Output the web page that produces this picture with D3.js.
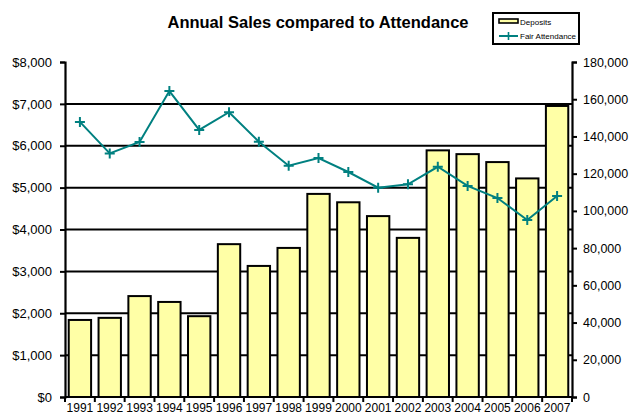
<!DOCTYPE html>
<html>
<head>
<meta charset="utf-8">
<script src="https://cdn.jsdelivr.net/npm/d3@7"></script>
<style>
  body { margin: 0; background: #fff; }
  text { font-family: Arial, "Liberation Sans", sans-serif; fill: #000; }
</style>
</head>
<body>
<svg id="chart" width="630" height="415"></svg>
<script>
var years = ["1991", "1992", "1993", "1994", "1995", "1996", "1997", "1998", "1999",
    "2000", "2001", "2002", "2003", "2004", "2005", "2006", "2007"];
var deposits = [1840, 1890, 2410, 2270, 1930, 3650, 3130, 3560, 4850,
    4650, 4320, 3800, 5890, 5800, 5610, 5220, 6950];
var attendance = [147800, 130900, 137000, 164400, 143500, 153000, 137200, 124300, 128400,
    120900, 112500, 114300, 123700, 113400, 106900, 95100, 108000];
var salesTicks = [0, 1000, 2000, 3000, 4000, 5000, 6000, 7000, 8000];
var attendTicks = [0, 20000, 40000, 60000, 80000, 100000, 120000, 140000, 160000, 180000];

var main;
(function (main) {
    let left = 65, right = 572, top = 62, bottom = 397;
    let barFill = "#ffffa6", lineColor = "#008080";

    function ini() {
        let svg = d3.select("#chart");
        let x = d3.scaleBand().domain(years).range([left, right])
            .paddingInner(0.25).paddingOuter(0.125);
        let yL = d3.scaleLinear().domain([0, 8000]).range([bottom, top]);
        let yR = d3.scaleLinear().domain([0, 180000]).range([bottom, top]);

        // gridlines
        svg.append("g").selectAll("line").data(salesTicks.slice(1, -1)).enter().append("line")
            .attr("x1", left).attr("x2", right)
            .attr("y1", d => yL(d)).attr("y2", d => yL(d))
            .attr("stroke", "#000").attr("stroke-width", 2);

        // bars
        svg.append("g").selectAll("rect").data(deposits).enter().append("rect")
            .attr("x", (d, i) => x(years[i]))
            .attr("y", d => yL(d))
            .attr("width", x.bandwidth())
            .attr("height", d => bottom - yL(d))
            .attr("fill", barFill).attr("stroke", "#000").attr("stroke-width", 2);

        // axes
        let axL = svg.append("g").attr("transform", "translate(" + left + ",0)")
            .call(d3.axisLeft(yL).tickValues(salesTicks).tickSizeOuter(0).tickSize(5).tickPadding(8)
                .tickFormat(d => "$" + d3.format(",")(d)));
        let axR = svg.append("g").attr("transform", "translate(" + right + ",0)")
            .call(d3.axisRight(yR).tickValues(attendTicks).tickSizeOuter(0).tickSize(5).tickPadding(6)
                .tickFormat(d3.format(",")));
        [axL, axR].forEach(ax => {
            ax.select(".domain").attr("stroke-width", 2.2);
            ax.selectAll(".tick line").attr("stroke-width", 2);
            ax.selectAll("text").style("font-family", "Arial, 'Liberation Sans', sans-serif");
        });
        axL.selectAll("text").style("font-size", "13px");
        axR.selectAll("text").style("font-size", "12.5px");

        let axB = svg.append("g").attr("transform", "translate(0," + bottom + ")");
        axB.append("line").attr("x1", left).attr("x2", right).attr("stroke", "#000").attr("stroke-width", 2.2);
        let bounds = years.map(d => x(d) - x.step() * x.paddingInner() / 2);
        bounds.push(right);
        axB.selectAll(".bt").data(bounds).enter().append("line")
            .attr("x1", d => d).attr("x2", d => d).attr("y1", 0).attr("y2", 5)
            .attr("stroke", "#000").attr("stroke-width", 2);
        axB.selectAll(".yl").data(years).enter().append("text")
            .attr("x", d => x(d) + x.bandwidth() / 2).attr("y", 14.5)
            .attr("text-anchor", "middle").style("font-size", "12px").text(d => d);

        // attendance line
        let line = d3.line().x((d, i) => x(years[i]) + x.bandwidth() / 2).y(d => yR(d));
        svg.append("path").datum(attendance).attr("d", line)
            .attr("fill", "none").attr("stroke", lineColor).attr("stroke-width", 2);
        svg.append("g").selectAll("path").data(attendance).enter().append("path")
            .attr("transform", (d, i) => "translate(" + (x(years[i]) + x.bandwidth() / 2) + "," + yR(d) + ")")
            .attr("d", "M-5,0H5M0,-5V5")
            .attr("stroke", lineColor).attr("stroke-width", 2);

        // title
        svg.append("text").attr("x", 318).attr("y", 28).attr("text-anchor", "middle")
            .style("font-size", "16.5px").style("font-weight", "bold")
            .text("Annual Sales compared to Attendance");

        // legend
        let lg = svg.append("g");
        lg.append("rect").attr("x", 493).attr("y", 13).attr("width", 86).attr("height", 31)
            .attr("fill", "#fff").attr("stroke", "#000").attr("stroke-width", 2);
        lg.append("rect").attr("x", 499).attr("y", 19).attr("width", 19).attr("height", 4)
            .attr("fill", barFill).attr("stroke", "#000").attr("stroke-width", 1.6);
        lg.append("text").attr("x", 520).attr("y", 24.5).style("font-size", "8px").text("Deposits");
        lg.append("line").attr("x1", 499).attr("x2", 518).attr("y1", 36).attr("y2", 36)
            .attr("stroke", lineColor).attr("stroke-width", 2);
        lg.append("path").attr("d", "M504,36H513M508.5,32V40")
            .attr("stroke", lineColor).attr("stroke-width", 1.6);
        lg.append("text").attr("x", 520).attr("y", 39).style("font-size", "8px").text("Fair Attendance");
    }
    main.ini = ini;
})(main || (main = {}));
main.ini();
</script>
</body>
</html>
